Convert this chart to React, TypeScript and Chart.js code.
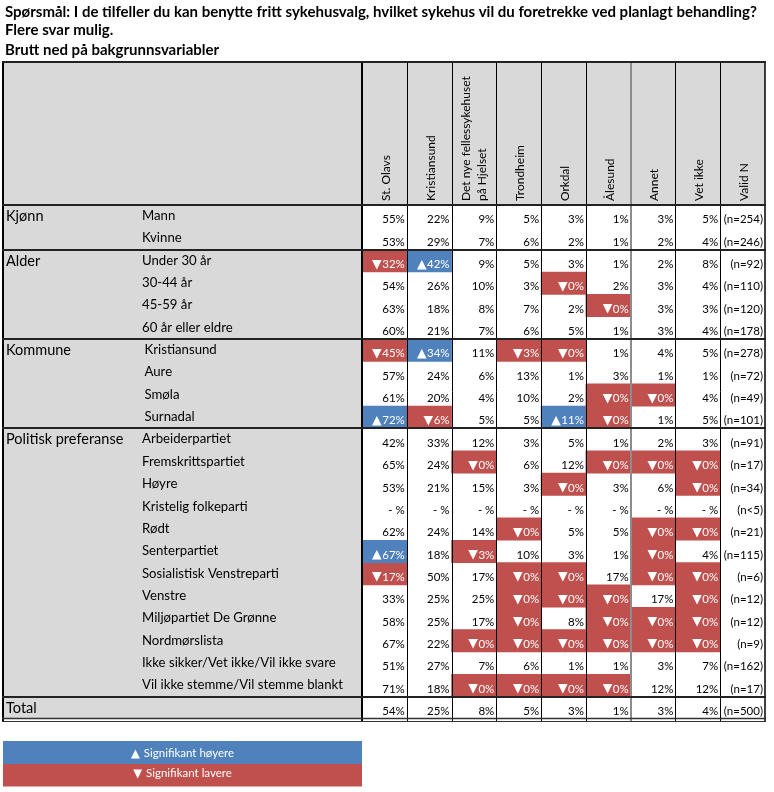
import React, { useEffect, useRef } from "react";
import { Chart, registerables } from "chart.js";

Chart.register(...registerables);

const titleLines = [
  "Spørsmål: I de tilfeller du kan benytte fritt sykehusvalg, hvilket sykehus vil du foretrekke ved planlagt behandling?",
  "Flere svar mulig.",
  "Brutt ned på bakgrunnsvariabler",
];

const columns = [
  "St. Olavs",
  "Kristiansund",
  "Det nye fellessykehuset\npå Hjelset",
  "Trondheim",
  "Orkdal",
  "Ålesund",
  "Annet",
  "Vet ikke",
  "Valid N",
];

const groupNames = ["Kjønn", "Alder", "Kommune", "Politisk preferanse", "Total"];
const groupSizes = [2, 4, 4, 12, 1];

const rowLabels = [
  "Mann",
  "Kvinne",
  "Under 30 år",
  "30-44 år",
  "45-59 år",
  "60 år eller eldre",
  "Kristiansund",
  "Aure",
  "Smøla",
  "Surnadal",
  "Arbeiderpartiet",
  "Fremskrittspartiet",
  "Høyre",
  "Kristelig folkeparti",
  "Rødt",
  "Senterpartiet",
  "Sosialistisk Venstreparti",
  "Venstre",
  "Miljøpartiet De Grønne",
  "Nordmørslista",
  "Ikke sikker/Vet ikke/Vil ikke svare",
  "Vil ikke stemme/Vil stemme blankt",
  "",
];

const values: (number | null)[][] = [
  [55, 22, 9, 5, 3, 1, 3, 5],
  [53, 29, 7, 6, 2, 1, 2, 4],
  [32, 42, 9, 5, 3, 1, 2, 8],
  [54, 26, 10, 3, 0, 2, 3, 4],
  [63, 18, 8, 7, 2, 0, 3, 3],
  [60, 21, 7, 6, 5, 1, 3, 4],
  [45, 34, 11, 3, 0, 1, 4, 5],
  [57, 24, 6, 13, 1, 3, 1, 1],
  [61, 20, 4, 10, 2, 0, 0, 4],
  [72, 6, 5, 5, 11, 0, 1, 5],
  [42, 33, 12, 3, 5, 1, 2, 3],
  [65, 24, 0, 6, 12, 0, 0, 0],
  [53, 21, 15, 3, 0, 3, 6, 0],
  [null, null, null, null, null, null, null, null],
  [62, 24, 14, 0, 5, 5, 0, 0],
  [67, 18, 3, 10, 3, 1, 0, 4],
  [17, 50, 17, 0, 0, 17, 0, 0],
  [33, 25, 25, 0, 0, 0, 17, 0],
  [58, 25, 17, 0, 8, 0, 0, 0],
  [67, 22, 0, 0, 0, 0, 0, 0],
  [51, 27, 7, 6, 1, 1, 3, 7],
  [71, 18, 0, 0, 0, 0, 12, 12],
  [54, 25, 8, 5, 3, 1, 3, 4],
];

// U = significantly higher, D = significantly lower, . = none
const significance = [
  "........",
  "........",
  "DU......",
  "....D...",
  ".....D..",
  "........",
  "DU.DD...",
  "........",
  ".....DD.",
  "UD..UD..",
  "........",
  "..D..DDD",
  "....D..D",
  "........",
  "...D..DD",
  "U.D...D.",
  "D..DD.DD",
  "...DDD.D",
  "...D.DDD",
  "..DDDDDD",
  "........",
  "..DDDD..",
  "........",
];

const validN = [
  "(n=254)", "(n=246)", "(n=92)", "(n=110)", "(n=120)", "(n=178)",
  "(n=278)", "(n=72)", "(n=49)", "(n=101)", "(n=91)", "(n=17)",
  "(n=34)", "(n<5)", "(n=21)", "(n=115)", "(n=6)", "(n=12)",
  "(n=12)", "(n=9)", "(n=162)", "(n=17)", "(n=500)",
];

const legendLabels = ["Signifikant høyere", "Signifikant lavere"];
const legendSymbols = ["▲", "▼"];

const BLUE = "#4f81bd";
const RED = "#c0504d";
const GRAY = "#d9d9d9";
const FONT = "Lato, 'Open Sans', sans-serif";
const ARROW_FONT = "'DejaVu Sans', sans-serif";

const tablePlugin = {
  id: "tablePlugin",
  beforeDraw(chart: any) {
    const { ctx, chartArea } = chart;
    ctx.save();
    ctx.fillStyle = "#ffffff";
    ctx.fillRect(0, 0, chart.width, chart.height);
    const tableTop = chartArea.top - 143;
    const tableLeft = 3;
    ctx.fillStyle = GRAY;
    ctx.fillRect(tableLeft, tableTop, chartArea.right - tableLeft, chartArea.top - tableTop);
    ctx.fillRect(tableLeft, chartArea.top, chartArea.left - tableLeft, chartArea.bottom - chartArea.top);
    ctx.restore();
  },
  afterDatasetsDraw(chart: any) {
    const { ctx, chartArea } = chart;
    const xs = chart.scales.x;
    const ys = chart.scales.y;
    const colW = (chartArea.right - chartArea.left) / columns.length;
    const tableTop = chartArea.top - 143;
    const tableLeft = 3;
    ctx.save();

    // Title
    ctx.fillStyle = "#000";
    ctx.textAlign = "left";
    ctx.textBaseline = "alphabetic";
    ctx.font = `bold 15px ${FONT}`;
    const titleBase = [17, 35, 55];
    titleLines.forEach((t, i) => ctx.fillText(t, 5, titleBase[i]));

    // Column headers (rotated)
    ctx.font = `12px ${FONT}`;
    columns.forEach((label, c) => {
      const cx = xs.getPixelForValue(c);
      const lines = label.split("\n");
      lines.forEach((ln, li) => {
        const off = lines.length === 1 ? 1.5 : (li - (lines.length - 1) / 2) * 16;
        ctx.save();
        ctx.translate(cx + off, chartArea.top - 4);
        ctx.rotate(-Math.PI / 2);
        ctx.textAlign = "left";
        ctx.textBaseline = "middle";
        ctx.fillStyle = "#000";
        ctx.fillText(ln, 0, 0);
        ctx.restore();
      });
    });

    // Row labels and cell values
    let r0 = 0;
    groupNames.forEach((g, gi) => {
      const top = ys.getPixelForValue(r0);
      ctx.font = `14.5px ${FONT}`;
      ctx.fillStyle = "#000";
      ctx.textAlign = "left";
      ctx.fillText(g, 6, top + 16);
      for (let k = 0; k < groupSizes[gi]; k++) {
        const r = r0 + k;
        const rt = ys.getPixelForValue(r);
        const rb = ys.getPixelForValue(r + 1);
        ctx.font = `13.2px ${FONT}`;
        ctx.fillStyle = "#000";
        ctx.textAlign = "left";
        ctx.fillText(rowLabels[r], gi === 2 ? 144.5 : 142, rt + 15);
        ctx.textAlign = "right";
        for (let c = 0; c < 8; c++) {
          const v = values[r][c];
          const s = significance[r][c];
          const right = xs.getPixelForValue(c) + colW / 2 - 2;
          const txt = v === null ? "- %" : `${v}%`;
          ctx.font = `11.5px ${FONT}`;
          ctx.fillStyle = s === "." ? "#000" : "#fff";
          ctx.fillText(txt, right, rb - 4);
          if (s !== ".") {
            const w = ctx.measureText(txt).width;
            ctx.font = `12.5px ${ARROW_FONT}`;
            ctx.fillText(s === "U" ? "▲" : "▼", right - w - 0.5, rb - 4.5);
          }
        }
        ctx.font = `11.5px ${FONT}`;
        ctx.fillStyle = "#000";
        ctx.fillText(validN[r], xs.getPixelForValue(8) + colW / 2 - 2, rb - 4);
      }
      r0 += groupSizes[gi];
    });

    // Vertical lines
    for (let c = 0; c <= columns.length; c++) {
      const x = chartArea.left + c * colW;
      const isGray = c === 6;
      ctx.strokeStyle = isGray ? "#8c8c8c" : "#000";
      ctx.lineWidth = isGray ? 2 : c === 0 ? 2 : c === columns.length ? 1.5 : 1;
      ctx.beginPath();
      ctx.moveTo(Math.round(x) + (ctx.lineWidth === 1 ? 0.5 : 0), tableTop);
      ctx.lineTo(Math.round(x) + (ctx.lineWidth === 1 ? 0.5 : 0), chartArea.bottom + 2);
      ctx.stroke();
    }
    // Left border
    ctx.strokeStyle = "#000";
    ctx.lineWidth = 2;
    ctx.beginPath();
    ctx.moveTo(tableLeft, tableTop);
    ctx.lineTo(tableLeft, chartArea.bottom + 2);
    ctx.stroke();

    // Horizontal lines: top, header bottom, group separators
    const hLines = [tableTop, chartArea.top];
    let acc = 0;
    groupSizes.forEach((n, i) => {
      acc += n;
      if (i < groupSizes.length - 1) hLines.push(ys.getPixelForValue(acc));
    });
    ctx.strokeStyle = "#222";
    ctx.lineWidth = 2;
    hLines.forEach((y) => {
      ctx.beginPath();
      ctx.moveTo(tableLeft - 1, Math.round(y));
      ctx.lineTo(chartArea.right + 1, Math.round(y));
      ctx.stroke();
    });
    // double bottom border
    ctx.strokeStyle = "#333";
    ctx.lineWidth = 1.5;
    ctx.beginPath();
    ctx.moveTo(tableLeft - 1, chartArea.bottom - 0.5);
    ctx.lineTo(chartArea.right + 1, chartArea.bottom - 0.5);
    ctx.stroke();
    ctx.lineWidth = 1;
    ctx.beginPath();
    ctx.moveTo(tableLeft - 1, chartArea.bottom + 2.5);
    ctx.lineTo(chartArea.right + 1, chartArea.bottom + 2.5);
    ctx.stroke();

    // Legend
    const legTop = chartArea.bottom + 22;
    const legColors = [BLUE, RED];
    const legBase = [16, 12.5];
    legendLabels.forEach((t, i) => {
      const y0 = legTop + i * 23;
      ctx.fillStyle = legColors[i];
      ctx.fillRect(tableLeft, y0, chartArea.left - tableLeft, i === 0 ? 23 : 22.5);
      ctx.fillStyle = "#fff";
      ctx.textBaseline = "alphabetic";
      ctx.font = `11.5px ${FONT}`;
      const tw = ctx.measureText(t).width;
      ctx.font = `11.5px ${ARROW_FONT}`;
      const aw = ctx.measureText(legendSymbols[i]).width + 4;
      const start = (tableLeft + chartArea.left) / 2 - (tw + aw) / 2;
      ctx.textAlign = "left";
      ctx.fillText(legendSymbols[i], start, y0 + legBase[i]);
      ctx.font = `11.5px ${FONT}`;
      ctx.fillText(t, start + aw, y0 + legBase[i]);
    });

    ctx.restore();
  },
};

export default function App() {
  const canvasRef = useRef<HTMLCanvasElement | null>(null);

  useEffect(() => {
    document.body.style.margin = "0";
    const canvas = canvasRef.current;
    if (!canvas) return;
    const datasets = rowLabels.map((_, r) => ({
      label: `row${r}`,
      data: columns.map((_, c) =>
        c < 8 && significance[r][c] !== "." ? [r, r + 1] : null
      ),
      backgroundColor: columns.map((_, c) =>
        c < 8 && significance[r][c] === "U" ? BLUE : RED
      ),
      borderWidth: 0,
      borderSkipped: false,
      barPercentage: 1,
      categoryPercentage: 1,
      grouped: false,
    }));
    const chart = new Chart(canvas, {
      type: "bar",
      data: { labels: columns, datasets: datasets as any },
      options: {
        animation: false,
        responsive: false,
        events: [],
        layout: { padding: { top: 205, bottom: 73, left: 362, right: 9 } },
        plugins: { legend: { display: false }, tooltip: { enabled: false } },
        scales: {
          x: { type: "category", display: false, offset: true, grid: { display: false } },
          y: { type: "linear", display: false, min: 0, max: rowLabels.length, reverse: true },
        },
      },
      plugins: [tablePlugin],
    });
    return () => chart.destroy();
  }, []);

  return (
    <canvas
      ref={canvasRef}
      width={774}
      height={792}
      style={{ display: "block", width: 774, height: 792 }}
    />
  );
}
